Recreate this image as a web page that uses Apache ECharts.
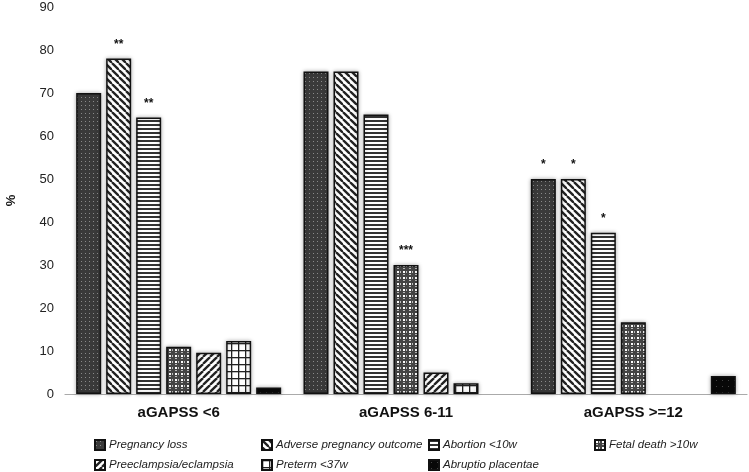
<!DOCTYPE html>
<html>
<head>
<meta charset="utf-8">
<script src="https://cdn.jsdelivr.net/npm/echarts@6/dist/echarts.min.js"></script>
<style>html,body{margin:0;padding:0;background:#fff}#c{width:749px;height:472px}</style>
</head>
<body>
<div id="c"></div>
<script>
var categories = ['aGAPSS <6', 'aGAPSS 6-11', 'aGAPSS >=12'];
var seriesNames = ['Pregnancy loss', 'Adverse pregnancy outcome', 'Abortion <10w', 'Fetal death >10w', 'Preeclampsia/eclampsia', 'Preterm <37w', 'Abruptio placentae'];
var pregnancyLoss = [70, 75, 50];
var adverseOutcome = [78, 75, 50];
var abortion = [64.3, 65, 37.5];
var fetalDeath = [11, 30, 16.7];
var preeclampsia = [9.6, 5, 0];
var preterm = [12.3, 2.5, 0];
var abruptio = [1.5, 0, 4.2];
var starsPregnancyLoss = ['', '', '*'];
var starsAdverse = ['**', '', '*'];
var starsAbortion = ['**', '', '*'];
var starsFetal = ['', '***', ''];
var starsNone = ['', '', ''];
var yTicks = [0, 10, 20, 30, 40, 50, 60, 70, 80, 90];

var FONT = "'Liberation Sans', Arial, sans-serif";

function tile(size, draw) {
  var c = document.createElement('canvas');
  c.width = size; c.height = size;
  var ctx = c.getContext('2d');
  draw(ctx, size);
  return { image: c, repeat: 'repeat' };
}
var patDots = tile(4, function (g, s) { g.fillStyle = '#3a3a3a'; g.fillRect(0, 0, s, s); g.fillStyle = '#8a8a8a'; g.fillRect(1, 1, 1, 1); });
var patBack = tile(7, function (g, s) { g.fillStyle = '#fff'; g.fillRect(0, 0, s, s); g.strokeStyle = '#222'; g.lineWidth = 2.3;
  for (var k = -1; k <= 1; k++) { g.beginPath(); g.moveTo(k * s, 0); g.lineTo(k * s + s, s); g.stroke(); } });
var patHoriz = tile(4, function (g, s) { g.fillStyle = '#fff'; g.fillRect(0, 0, s, s); g.fillStyle = '#333'; g.fillRect(0, 0, s, 2); });
var patCheck = tile(6, function (g, s) { g.fillStyle = '#444'; g.fillRect(0, 0, s, s); g.fillStyle = '#fff'; g.fillRect(1, 1, 2, 2); g.fillStyle = '#bbb'; g.fillRect(4, 1, 1, 2); g.fillRect(1, 4, 2, 1); });
var patFwd = tile(7, function (g, s) { g.fillStyle = '#fff'; g.fillRect(0, 0, s, s); g.strokeStyle = '#222'; g.lineWidth = 2.3;
  for (var k = -1; k <= 1; k++) { g.beginPath(); g.moveTo(k * s, s); g.lineTo(k * s + s, 0); g.stroke(); } });
var patGrid = tile(7, function (g, s) { g.fillStyle = '#fff'; g.fillRect(0, 0, s, s); g.fillStyle = '#222'; g.fillRect(0, 0, s, 1.3); g.fillRect(0, 0, 1.3, s); });
var patBlack = tile(6, function (g, s) { g.fillStyle = '#080808'; g.fillRect(0, 0, s, s); g.fillStyle = '#444'; g.fillRect(2, 2, 1, 1); });

var patterns = [patDots, patBack, patHoriz, patCheck, patFwd, patGrid, patBlack];
var dataArr = [pregnancyLoss, adverseOutcome, abortion, fetalDeath, preeclampsia, preterm, abruptio];
var starArr = [starsPregnancyLoss, starsAdverse, starsAbortion, starsFetal, starsNone, starsNone, starsNone];

var series = seriesNames.map(function (n, i) {
  return {
    name: n, type: 'bar', barWidth: 25, barGap: '20%', barCategoryGap: '10%',
    data: dataArr[i].map(function (v) {
      return v === 0 ? { value: v, itemStyle: { borderWidth: 0, shadowBlur: 0, opacity: 0 } } : v;
    }),
    itemStyle: { color: patterns[i], borderColor: '#111', borderWidth: 1.5, shadowBlur: 4, shadowColor: 'rgba(0,0,0,0.3)' },
    label: { show: true, position: 'top', distance: 8, fontFamily: FONT, fontWeight: 'bold', fontSize: 12, color: '#111',
      formatter: function (p) { return starArr[i][p.dataIndex]; } }
  };
});

var legendLefts = [89, 256, 423, 589, 89, 256, 423];
var legendTops = [434, 434, 434, 434, 454, 454, 454];
var legends = seriesNames.map(function (n, i) {
  return { data: [n], left: legendLefts[i], top: legendTops[i], itemWidth: 10, itemHeight: 10, itemGap: 4, icon: 'rect',
    textStyle: { fontFamily: FONT, fontStyle: 'italic', fontSize: 11.5, color: '#222', padding: [0, 0, 0, -1] } };
});

var chart = echarts.init(document.getElementById('c'), null, { renderer: 'canvas' });
chart.setOption({
  animation: false,
  grid: { left: 65, right: 2, top: 7, bottom: 78, containLabel: false, outerBoundsMode: 'none' },
  xAxis: { type: 'category', data: categories,
    axisLine: { lineStyle: { color: '#aaa', width: 1.2 } }, axisTick: { show: false },
    axisLabel: { fontFamily: FONT, fontWeight: 'bold', fontSize: 15, color: '#111', margin: 11 } },
  yAxis: { type: 'value', min: yTicks[0], max: yTicks[yTicks.length - 1], interval: 10,
    name: '%', nameLocation: 'middle', nameGap: 47, nameRotate: 90,
    nameTextStyle: { fontFamily: FONT, fontWeight: 'bold', fontSize: 13, color: '#111' },
    axisLine: { show: false }, axisTick: { show: false }, splitLine: { show: false },
    axisLabel: { fontFamily: FONT, fontSize: 13, color: '#222', margin: 11 } },
  legend: legends,
  series: series
});
</script>
</body>
</html>
